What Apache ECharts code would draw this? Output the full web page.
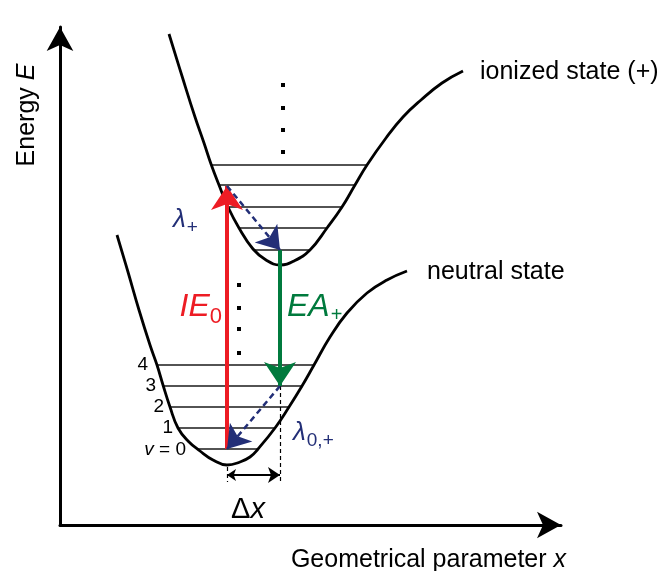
<!DOCTYPE html>
<html><head><meta charset="utf-8">
<script src="https://cdn.jsdelivr.net/npm/echarts@6/dist/echarts.min.js"></script>
<style>html,body{margin:0;padding:0;background:#fff}#c{width:669px;height:571px}</style>
</head><body><div id="c"></div>
<script>
// Diagram units: x = geometrical parameter, E = energy (origin at the axes corner)
const ionizedCurve = [[109,491],[122,449],[135,408],[144,382],[151,361],[159,340],[168,318],[179,297],[193,276],[206,265],[220,260],[234,264],[250,275],[267,297],[282,318],[295,340],[307,360],[326,387],[343,408],[361,425],[382,442],[403,454]];
const neutralCurve = [[57,290],[68,253],[79,215],[90,180],[97,160],[103,140],[110,118],[118,97],[128,84],[140,74],[153,65],[167,60],[180,63],[190,68],[198,76],[215,97],[229,118],[242,139],[254,160],[270,188],[287,212],[307,232],[327,245],[347,254]];
// vibrational levels: [E, xLeft, xRight]
const ionizedLevels = [[360,151,307],[340,159,295],[318,168,282],[297,179,267],[275,193,250]];
const neutralLevels = [[160,97,254],[139,103,242],[118,110,229],[97,118,215],[76,138,198]];
const levelNames = ['4','3','2','1','v = 0'];
const ionizedDots = [[223,440],[223,417],[223,395],[223,373]];
const neutralDots = [[179,240],[179,217],[179,196],[179,172]];
// transitions
const ieTransition = [[167,76],[167,339]];
const eaTransition = [[220,275],[220,139]];
const relaxIonized = [[167,339],[220,275]];
const relaxNeutral = [[220,139],[167,76]];
const deltaX = [[167,50],[220,50]];
const guideLeft = [[167,58],[167,43]];
const guideRight = [[220,139],[220,43]];
const X_MAX = 501, E_MAX = 498;

const RED = '#ed1c24', GREEN = '#007a3d', NAVY = '#232f77';
const FONT = 'Liberation Sans, Arial, sans-serif';

function levelLines(levels) {
  return levels.map(l => ({ coords: [[l[1], l[0]], [l[2], l[0]]] }));
}
function arrowLines(name, coords, color, width, type, size) {
  return {
    type: 'lines', name: name, coordinateSystem: 'cartesian2d', z: 5,
    symbol: ['none', 'arrow'], symbolSize: size, symbolOffset: [0, size[1] / 2],
    lineStyle: { color: color, width: width, type: type, opacity: 1, curveness: 0 },
    data: [{ coords: coords }], silent: true
  };
}

const labelItems = [
  { value: [-33, 410], label: { formatter: '{n|Energy }{i|E}', rotate: 90, align: 'center', verticalAlign: 'middle' } },
  { value: [506, -35], label: { formatter: '{n|Geometrical parameter }{i|x}', align: 'right', verticalAlign: 'middle' } },
  { value: [420, 453], label: { formatter: '{n|ionized state (+)}', align: 'left', verticalAlign: 'middle' } },
  { value: [367, 253], label: { formatter: '{n|neutral state}', align: 'left', verticalAlign: 'middle' } },
  { value: [162, 218], label: { formatter: '{ri|IE}{rs|0}', align: 'right', verticalAlign: 'middle' } },
  { value: [227, 218], label: { formatter: '{gi|EA}{gs|+}', align: 'left', verticalAlign: 'middle' } },
  { value: [113, 305], label: { formatter: '{bi|λ}{bs|+}', align: 'left', verticalAlign: 'middle' } },
  { value: [233, 92], label: { formatter: '{bi|λ}{bs|0,+}', align: 'left', verticalAlign: 'middle' } },
  { value: [188, 15], label: { formatter: '{d|Δ}{di|x}', align: 'center', verticalAlign: 'middle' } }
];
const levelAnchors = [[88,160],[96,139],[104,118],[113,97],[126,75]];
levelNames.forEach((t, i) => {
  const f = t.indexOf('v') === 0 ? '{si|v}{s| = 0}' : '{s|' + t + '}';
  labelItems.push({ value: levelAnchors[i], label: { formatter: f, align: 'right', verticalAlign: 'middle' } });
});

const rich = {
  n: { fontFamily: FONT, fontSize: 25, color: '#000' },
  i: { fontFamily: FONT, fontSize: 25, fontStyle: 'italic', color: '#000' },
  d: { fontFamily: FONT, fontSize: 29, color: '#000' },
  di: { fontFamily: FONT, fontSize: 29, fontStyle: 'italic', color: '#000' },
  s: { fontFamily: FONT, fontSize: 19, color: '#000' },
  si: { fontFamily: FONT, fontSize: 19, fontStyle: 'italic', color: '#000' },
  ri: { fontFamily: FONT, fontSize: 32, fontStyle: 'italic', color: RED },
  rs: { fontFamily: FONT, fontSize: 22, color: RED, padding: [20, 0, 0, 0] },
  gi: { fontFamily: FONT, fontSize: 32, fontStyle: 'italic', color: GREEN },
  gs: { fontFamily: FONT, fontSize: 20, color: GREEN, padding: [16, 0, 0, 1] },
  bi: { fontFamily: FONT, fontSize: 26, fontStyle: 'italic', color: NAVY },
  bs: { fontFamily: FONT, fontSize: 19, color: NAVY, padding: [16, 0, 0, 1] }
};

const axisCommon = {
  type: 'value', min: 0,
  axisLine: { show: true, symbol: ['none', 'arrow'], symbolSize: [20, 24], lineStyle: { color: '#000', width: 3 } },
  axisTick: { show: false }, axisLabel: { show: false }, splitLine: { show: false }
};

const chart = echarts.init(document.getElementById('c'), null, { renderer: 'canvas' });
chart.setOption({
  animation: false,
  backgroundColor: '#fff',
  grid: { left: 60, top: 27, right: 669 - 60 - X_MAX, bottom: 46, containLabel: false },
  xAxis: Object.assign({}, axisCommon, { max: X_MAX }),
  yAxis: Object.assign({}, axisCommon, { max: E_MAX }),
  series: [
    { type: 'line', name: 'ionized state', data: ionizedCurve, smooth: 0.45, symbol: 'none', clip: false,
      lineStyle: { color: '#000', width: 2.8 }, z: 3, silent: true },
    { type: 'line', name: 'neutral state', data: neutralCurve, smooth: 0.45, symbol: 'none', clip: false,
      lineStyle: { color: '#000', width: 2.8 }, z: 3, silent: true },
    { type: 'lines', coordinateSystem: 'cartesian2d', data: levelLines(ionizedLevels).concat(levelLines(neutralLevels)),
      lineStyle: { color: '#1a1a1a', width: 1.7, opacity: 1 }, z: 2, silent: true },
    { type: 'scatter', data: ionizedDots.concat(neutralDots), symbol: 'rect', symbolSize: 4,
      itemStyle: { color: '#000', opacity: 1 }, z: 2, silent: true },
    { type: 'lines', coordinateSystem: 'cartesian2d', data: [{ coords: guideLeft }, { coords: guideRight }],
      lineStyle: { color: '#000', width: 1.2, type: [4, 3], opacity: 1 }, z: 2, silent: true },
    arrowLines('IE0', ieTransition, RED, 4, 'solid', [17, 24]),
    arrowLines('EA+', eaTransition, GREEN, 4, 'solid', [17, 24]),
    arrowLines('λ+', relaxIonized, NAVY, 2.5, [6, 4], [16, 22]),
    arrowLines('λ0,+', relaxNeutral, NAVY, 2.5, [6, 4], [16, 22]),
    { type: 'lines', coordinateSystem: 'cartesian2d', data: [{ coords: deltaX }],
      symbol: ['arrow', 'arrow'], symbolSize: [9, 12], symbolOffset: [0, 6],
      lineStyle: { color: '#000', width: 2, opacity: 1 }, z: 5, silent: true },
    { type: 'scatter', data: labelItems, symbolSize: 0, clip: false, z: 10, silent: true,
      itemStyle: { opacity: 1 },
      label: { show: true, position: 'inside', opacity: 1, rich: rich } }
  ]
});
</script></body></html>
